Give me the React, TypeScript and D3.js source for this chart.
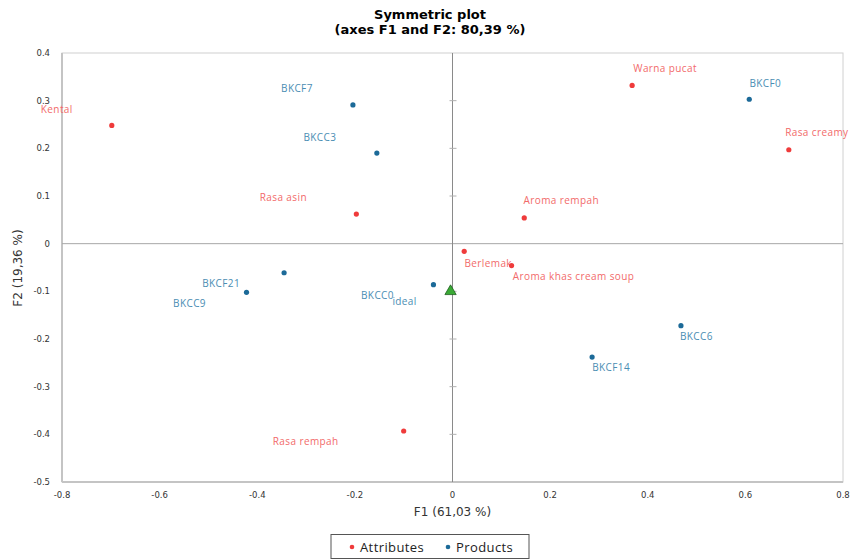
import React from "react";
import * as d3 from "d3";

const attrNames = ["Kental", "Rasa asin", "Warna pucat", "Rasa creamy", "Aroma rempah", "Berlemak", "Aroma khas cream soup", "Rasa rempah"];
const attrF1 = [-0.698, -0.197, 0.368, 0.689, 0.147, 0.024, 0.121, -0.100];
const attrF2 = [0.248, 0.062, 0.332, 0.197, 0.054, -0.016, -0.046, -0.393];

const prodNames = ["BKCF7", "BKCC3", "BKCF21", "BKCC9", "BKCC0", "BKCF0", "BKCC6", "BKCF14"];
const prodF1 = [-0.204, -0.155, -0.345, -0.422, -0.039, 0.608, 0.468, 0.286];
const prodF2 = [0.291, 0.190, -0.061, -0.102, -0.086, 0.303, -0.172, -0.238];

const idealName = "ideal";
const idealF1 = -0.004;
const idealF2 = -0.10;

const xTicks = [-0.8, -0.6, -0.4, -0.2, 0, 0.2, 0.4, 0.6, 0.8];
const yTicks = [-0.5, -0.4, -0.3, -0.2, -0.1, 0, 0.1, 0.2, 0.3, 0.4];

// label offsets (layout, px) relative to each point: [dx, dy] of label center
const attrLabelOffsets: [number, number][] = [[-55, -16], [-73, -17], [33, -17], [28, -17], [37, -17], [24, 12], [62, 11], [-98, 11]];
const prodLabelOffsets: [number, number][] = [[-56, -16], [-57, -16], [-63, 11], [-57, 11], [-56, 11], [16, -16], [15.5, 11], [19, 10]];
const idealLabelOffset: [number, number] = [-46, 10];

const W = 850, H = 560;
const left = 62, right = 843, top = 53, bottom = 482;

const attrDot = "#ef3b3b";
const attrText = "#f26a6a";
const prodDot = "#1c6a98";
const prodText = "#4a8db3";

export default function App() {
  const x = d3.scaleLinear().domain([-0.8, 0.8]).range([left, right]);
  const y = d3.scaleLinear().domain([-0.5, 0.4]).range([bottom, top]);
  const labelFont = "'Open Sans', 'Noto Sans', sans-serif";
  const axisFont = "'DejaVu Sans', Verdana, sans-serif";
  const tri = d3.symbol().type(d3.symbolTriangle).size(55)();
  const fmt = (v: number) => (v === 0 ? "0" : String(v));

  return (
    <svg width={W} height={H} style={{ position: "absolute", left: 0, top: 0, background: "#fff" }}>
      <text x={430} y={19} textAnchor="middle" fontFamily={axisFont} fontWeight="bold" fontSize={13}>Symmetric plot</text>
      <text x={430} y={34} textAnchor="middle" fontFamily={axisFont} fontWeight="bold" fontSize={13}>(axes F1 and F2: 80,39 %)</text>

      {/* frame */}
      <rect x={left} y={top} width={right - left} height={bottom - top} fill="none" stroke="#d0d0d0" strokeWidth={1} />
      <line x1={left} x2={left} y1={top} y2={bottom} stroke="#c4c4c4" strokeWidth={2} />
      <line x1={left} x2={right} y1={bottom} y2={bottom} stroke="#c4c4c4" strokeWidth={2} />

      {/* zero lines */}
      <line x1={left} x2={right} y1={y(0)} y2={y(0)} stroke="#a8a8a8" strokeWidth={1} />
      <line x1={x(0)} x2={x(0)} y1={top} y2={bottom} stroke="#8a8a8a" strokeWidth={1} />
      {yTicks.filter(t => t !== 0 && t !== 0.4 && t !== -0.5).map(t => (
        <line key={"yt" + t} x1={x(0) - 3} x2={x(0) + 4} y1={y(t)} y2={y(t)} stroke="#b0b0b0" strokeWidth={1} />
      ))}

      {/* tick labels */}
      {xTicks.map(t => (
        <text key={"xl" + t} x={x(t)} y={bottom + 16} textAnchor="middle" fontFamily={axisFont} fontSize={8.5} fill="#333">{fmt(t)}</text>
      ))}
      {yTicks.map(t => (
        <text key={"yl" + t} x={left - 12} y={y(t) + 3} textAnchor="end" fontFamily={axisFont} fontSize={8.5} fill="#333">{fmt(t)}</text>
      ))}

      {/* axis titles */}
      <text x={x(0)} y={516} textAnchor="middle" fontFamily={axisFont} fontSize={12} fill="#333">F1 (61,03 %)</text>
      <text transform={`translate(22,${268}) rotate(-90)`} textAnchor="middle" fontFamily={axisFont} fontSize={12} fill="#333">F2 (19,36 %)</text>

      {/* attributes */}
      {attrNames.map((n, i) => (
        <g key={"a" + n}>
          <circle cx={x(attrF1[i])} cy={y(attrF2[i])} r={2.6} fill={attrDot} />
          <text x={x(attrF1[i]) + attrLabelOffsets[i][0]} y={y(attrF2[i]) + attrLabelOffsets[i][1] + 3.5} textAnchor="middle" fontFamily={labelFont} fontSize={10} fill={attrText} letterSpacing={0.4}>{n}</text>
        </g>
      ))}

      {/* products */}
      {prodNames.map((n, i) => (
        <g key={"p" + n}>
          <circle cx={x(prodF1[i])} cy={y(prodF2[i])} r={2.6} fill={prodDot} />
          <text x={x(prodF1[i]) + prodLabelOffsets[i][0]} y={y(prodF2[i]) + prodLabelOffsets[i][1] + 3.5} textAnchor="middle" fontFamily={labelFont} fontSize={10} fill={prodText} letterSpacing={0.4}>{n}</text>
        </g>
      ))}

      {/* ideal */}
      <path d={tri ?? ""} transform={`translate(${x(idealF1)},${y(idealF2)})`} fill="#3aaa35" stroke="#1e5e1e" strokeWidth={0.8} />
      <text x={x(idealF1) + idealLabelOffset[0]} y={y(idealF2) + idealLabelOffset[1] + 3.5} textAnchor="middle" fontFamily={labelFont} fontSize={10} fill={prodText} letterSpacing={0.4}>{idealName}</text>

      {/* legend */}
      <rect x={331} y={534.5} width={198} height={24} fill="#fff" stroke="#555" strokeWidth={1} />
      <circle cx={352} cy={547} r={2.3} fill={attrDot} />
      <text x={360} y={551.5} fontFamily={labelFont} fontSize={13} fill="#222" letterSpacing={0.4}>Attributes</text>
      <circle cx={448} cy={547} r={2.3} fill={prodDot} />
      <text x={456} y={551.5} fontFamily={labelFont} fontSize={13} fill="#222" letterSpacing={0.4}>Products</text>
    </svg>
  );
}
